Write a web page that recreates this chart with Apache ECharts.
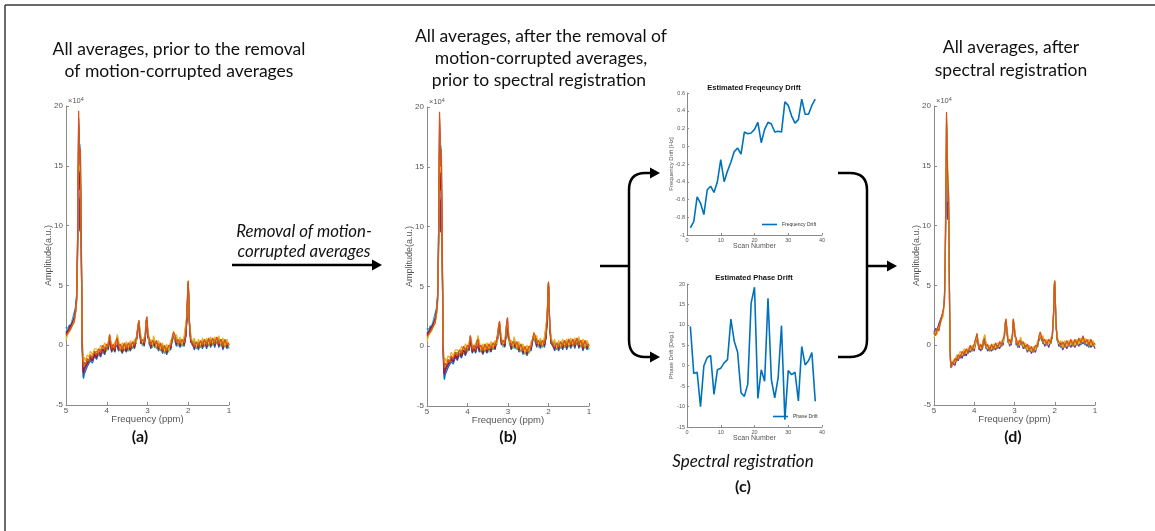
<!DOCTYPE html>
<html><head><meta charset="utf-8">
<script src="https://cdn.jsdelivr.net/npm/echarts@6/dist/echarts.min.js"></script>
<style>html,body{margin:0;padding:0;background:#fff}#c{width:1155px;height:531px}</style>
</head><body><div id="c"></div>
<script>
// chemical shift grid (ppm)
const ppm = [
5.00,4.96,4.92,4.88,4.84,4.80,4.77,4.74,4.72,4.70,
4.69,4.68,4.67,4.66,4.65,4.64,4.63,4.62,4.61,4.60,
4.59,4.58,4.57,4.55,4.52,4.48,4.44,4.40,4.35,4.30,
4.25,4.20,4.15,4.10,4.05,4.00,3.96,3.93,3.91,3.88,
3.84,3.80,3.77,3.74,3.71,3.67,3.62,3.57,3.52,3.47,
3.42,3.37,3.32,3.28,3.25,3.23,3.21,3.19,3.16,3.12,
3.08,3.05,3.03,3.01,2.99,2.96,2.92,2.88,2.85,2.82,
2.78,2.73,2.68,2.63,2.58,2.53,2.48,2.43,2.39,2.36,
2.33,2.29,2.25,2.20,2.15,2.10,2.06,2.03,2.01,2.00,
1.99,1.97,1.94,1.90,1.85,1.80,1.75,1.70,1.65,1.60,
1.55,1.50,1.45,1.40,1.35,1.30,1.25,1.20,1.15,1.10,1.05,1.00];

// averages before removal / before registration (amplitude x1e4)
const rawBlue = [
1.5,1.2,1.7,1.5,2.2,2.3,3.1,4.2,7.5,14,
18.5,16,14,13.5,14,12.5,10,6.5,2.5,-0.5,
-1.9,-2.6,-2.8,-2.4,-2.3,-1.8,-1.9,-1.3,-1.5,-0.9,
-1.2,-0.7,-1.0,-0.5,-0.8,-0.2,-0.4,0.7,0.0,-0.6,
-0.2,-0.6,0.2,0.3,-0.5,-0.3,-0.7,-0.2,-0.6,-0.1,
-0.5,0.1,-0.3,0.4,0.5,1.5,1.8,0.9,0.1,0.3,
-0.1,0.8,1.9,2.0,0.6,0.4,-0.3,0.2,0.1,-0.2,
0.1,-0.5,-0.1,-0.7,-0.3,-0.8,-0.3,-0.4,0.5,0.7,
0.7,-0.1,0.3,-0.2,0.3,-0.1,0.7,2.2,4.6,5.0,
3.9,1.7,0.2,0.4,-0.4,0.1,-0.4,0.2,-0.3,0.3,
-0.3,0.4,-0.2,0.5,-0.2,0.6,-0.2,0.4,-0.4,0.3,-0.3,0.1];
const rawCyan = [
1.0,1.5,1.2,1.8,1.8,2.5,2.8,4.1,6.5,11.5,
15,15.5,16,16.5,16.8,15.5,12,7.5,3.0,0.0,
-1.2,-2.0,-2.2,-1.9,-2.0,-1.5,-1.6,-1.1,-1.3,-0.8,
-1.0,-0.6,-0.8,-0.3,-0.6,-0.1,-0.3,0.8,0.2,-0.4,
-0.1,-0.5,0.3,0.4,-0.3,-0.1,-0.6,-0.1,-0.4,-0.5,
0.1,-0.3,0.3,0.1,0.9,1.4,1.9,1.0,0.5,-0.1,
0.5,0.6,2.0,2.0,1.2,0.0,0.2,-0.2,0.5,-0.1,
0.2,-0.4,0.1,-0.6,-0.2,-0.6,0.0,-0.2,0.7,0.8,
0.4,0.5,-0.1,0.4,-0.1,0.4,0.5,2.5,4.7,5.0,
4.1,1.5,0.7,0.0,0.2,-0.3,0.2,-0.2,0.2,-0.1,
0.3,0.0,0.3,0.0,0.5,0.1,0.4,0.0,0.2,-0.1,0.2,-0.3];
const rawPurple = [
1.2,1.0,1.5,1.4,1.9,2.1,2.9,3.8,6.5,12,
16,13,10,9.5,12,12.5,10,6.0,2.5,-0.2,
-1.6,-2.2,-2.4,-2.1,-2.0,-1.6,-1.7,-1.2,-1.3,-0.8,
-1.1,-0.6,-0.9,-0.4,-0.7,-0.2,-0.3,0.6,0.1,-0.5,
-0.2,-0.5,0.2,0.3,-0.4,-0.2,-0.6,-0.2,-0.5,-0.1,
-0.4,0.1,-0.2,0.4,0.6,1.4,1.8,1.0,0.1,0.3,
0.0,0.8,1.8,2.1,0.7,0.4,-0.2,0.2,0.2,-0.1,
0.2,-0.4,0.0,-0.6,-0.3,-0.7,-0.2,-0.3,0.6,0.7,
0.8,0.0,0.3,-0.1,0.3,0.0,0.8,2.3,4.6,5.1,
4.0,1.8,0.3,0.4,-0.3,0.2,-0.3,0.2,-0.2,0.3,
-0.2,0.4,-0.1,0.5,-0.1,0.6,-0.1,0.4,-0.3,0.4,-0.2,0.1];
const rawGreen = [
0.6,1.0,0.9,1.4,1.5,2.1,2.5,3.8,7.0,13,
17,16,15,14,14.5,13,10.5,6.5,2.8,0.3,
-0.9,-1.6,-1.9,-1.5,-1.7,-1.2,-1.4,-0.9,-1.1,-0.6,
-0.5,-0.8,-0.3,-0.6,-0.1,-0.5,0.1,0.6,0.5,-0.1,
-0.5,0.0,-0.1,0.8,0.2,-0.5,0.0,-0.5,0.1,-0.4,
0.2,-0.3,0.4,0.1,1.0,1.5,1.9,1.3,0.6,0.0,
0.5,0.7,2.0,2.0,1.2,0.1,0.3,-0.2,0.6,0.3,
-0.3,0.2,-0.5,0.0,-0.7,-0.2,-0.6,0.2,0.4,1.0,
0.4,0.7,0.0,0.5,-0.1,0.6,0.6,2.5,4.8,5.1,
4.1,1.6,0.8,0.0,0.4,-0.3,0.3,-0.2,0.4,-0.1,
0.4,-0.1,0.5,0.0,0.5,0.1,0.6,-0.1,0.4,-0.2,0.3,-0.2];
const rawRed = [
0.9,1.2,1.1,1.6,1.6,2.3,2.6,3.9,7.5,14.5,
19,17.5,14,13,14,12.5,10,6.0,2.4,0.0,
-1.5,-2.1,-2.3,-1.9,-2.0,-1.5,-1.6,-1.0,-1.3,-0.7,
-1.0,-0.5,-0.8,-0.3,-0.6,0.0,-0.3,0.8,0.1,-0.5,
-0.1,-0.5,0.2,0.5,-0.3,-0.1,-0.6,0.0,-0.5,0.0,
-0.4,0.2,-0.2,0.5,0.6,1.7,2.0,1.1,0.2,0.4,
0.0,0.9,2.1,2.2,0.8,0.5,-0.2,0.3,0.2,0.0,
0.2,-0.3,0.0,-0.5,-0.2,-0.6,-0.1,-0.2,0.5,1.0,
0.8,0.1,0.4,0.0,0.4,0.1,0.8,2.5,4.9,5.3,
4.2,1.9,0.4,0.5,-0.2,0.2,-0.2,0.3,-0.1,0.4,
-0.1,0.5,0.0,0.5,0.0,0.6,0.0,0.5,-0.2,0.4,-0.1,0.1];
const rawYellow = [
0.4,0.9,0.8,1.3,1.4,2.0,2.4,3.7,6.8,13.5,
17.5,16.5,15.5,14.5,15,13.5,11,7.0,3.0,0.6,
-0.6,-1.1,-1.3,-1.0,-1.3,-0.8,-1.0,-0.5,-0.8,-0.3,
-0.3,-0.6,0.0,-0.3,0.2,-0.2,0.3,0.9,0.8,0.1,
-0.2,0.3,0.0,0.9,0.4,-0.3,0.2,-0.3,0.3,-0.2,
0.4,-0.1,0.5,0.2,1.1,1.8,2.0,1.5,0.7,0.2,
0.7,0.9,2.1,2.2,1.4,0.3,0.5,0.0,0.8,0.4,
-0.1,0.4,-0.3,0.2,-0.5,0.1,-0.4,0.4,0.6,1.2,
0.6,0.9,0.2,0.7,0.1,0.8,0.9,2.6,4.9,5.3,
4.3,1.8,1.0,0.2,0.6,-0.1,0.5,0.0,0.6,0.1,
0.6,0.1,0.7,0.2,0.7,0.3,0.8,0.1,0.6,0.0,0.5,0.0];
const rawOrange = [
0.8,0.7,1.2,1.1,1.7,1.9,2.7,3.6,7.5,14.5,
19.6,18,16,15,16.5,14.5,11.5,7.5,3.2,0.4,
-1.0,-1.5,-1.8,-1.4,-1.6,-1.1,-1.3,-0.8,-1.0,-0.5,
-0.8,-0.3,-0.6,0.0,-0.4,0.1,-0.1,0.9,0.4,-0.3,
0.1,-0.3,0.4,0.6,-0.1,0.1,-0.4,0.2,-0.3,0.2,
-0.2,0.3,0.0,0.5,0.8,1.7,2.1,1.2,0.3,0.5,
0.2,1.0,2.2,2.4,0.9,0.6,0.0,0.4,0.4,0.1,
0.4,-0.2,0.2,-0.4,0.0,-0.5,0.0,-0.1,0.7,1.1,
0.9,0.2,0.5,0.1,0.5,0.2,0.9,2.7,5.1,5.4,
4.4,2.0,0.5,0.6,-0.1,0.3,-0.1,0.4,0.0,0.5,
0.0,0.6,0.1,0.6,0.1,0.7,0.1,0.5,-0.1,0.5,0.0,0.2];

// averages after spectral registration
const regBlue = [
1.2,0.9,1.4,1.3,2.0,2.1,2.9,3.8,7.5,14,
18.5,18,15,13.5,13,12.5,10,6.0,2.2,-0.3,
-1.4,-1.8,-1.9,-1.6,-1.7,-1.3,-1.4,-0.9,-1.1,-0.6,
-0.9,-0.4,-0.7,-0.2,-0.5,0.0,-0.1,0.8,0.2,-0.4,
0.0,-0.4,0.3,0.5,-0.3,-0.1,-0.5,-0.1,-0.4,0.1,
-0.3,0.2,-0.1,0.5,0.7,1.8,2.1,1.1,0.2,0.4,
0.0,0.9,2.1,2.2,0.8,0.5,-0.2,0.3,0.2,0.0,
0.2,-0.3,0.0,-0.5,-0.2,-0.6,-0.1,-0.2,0.6,0.9,
0.9,0.1,0.4,0.0,0.4,0.1,0.8,2.6,5.0,5.3,
4.3,1.9,0.4,0.5,-0.2,0.2,-0.2,0.3,-0.1,0.4,
-0.1,0.4,0.0,0.5,0.0,0.7,0.0,0.4,-0.2,0.4,-0.1,0.1];
const regPurple = [
0.9,1.4,1.2,1.8,1.7,2.5,2.7,4.2,7.0,12.5,
16,14,11,10.5,12,11.5,9.5,5.8,2.0,-0.4,
-1.3,-1.9,-1.8,-2.0,-1.5,-1.7,-1.1,-1.3,-0.8,-1.1,
-0.5,-0.9,-0.4,-0.6,-0.2,-0.5,0.2,0.6,0.5,-0.1,
-0.5,-0.1,-0.1,0.8,0.1,-0.5,-0.2,-0.5,-0.1,-0.4,
0.0,-0.3,0.2,0.0,1.0,1.6,2.0,1.3,0.5,-0.1,
0.4,0.7,2.0,2.0,1.1,0.0,0.2,-0.2,0.5,0.2,
-0.3,0.0,-0.6,-0.2,-0.7,-0.3,-0.6,0.1,0.4,0.9,
0.4,0.6,-0.1,0.3,-0.2,0.4,0.6,2.4,4.9,5.1,
4.2,1.5,0.7,-0.1,0.2,-0.4,0.2,-0.3,0.2,-0.2,
0.2,-0.2,0.3,-0.1,0.4,0.1,0.4,-0.1,0.3,-0.2,0.2,-0.3];
const regGreen = [
1.1,0.8,1.4,1.2,1.9,2.0,2.8,3.7,7.0,13,
17,16,15,14.5,14,12.5,10,6.0,2.2,-0.2,
-1.3,-1.7,-1.9,-1.5,-1.6,-1.2,-1.4,-0.8,-1.0,-0.6,
-0.8,-0.4,-0.6,-0.1,-0.5,0.0,0.0,0.9,0.2,-0.3,
0.0,-0.4,0.4,0.4,-0.2,0.0,-0.5,0.0,-0.4,0.1,
-0.3,0.3,-0.1,0.5,0.7,1.8,2.0,1.2,0.2,0.4,
0.1,0.9,2.1,2.2,0.8,0.5,-0.1,0.3,0.2,0.1,
0.2,-0.3,0.0,-0.5,-0.2,-0.6,-0.1,-0.2,0.7,0.9,
0.9,0.2,0.4,0.0,0.4,0.1,0.8,2.6,5.0,5.3,
4.3,1.9,0.4,0.5,-0.1,0.2,-0.2,0.3,-0.1,0.4,
-0.1,0.4,0.0,0.5,0.1,0.7,0.1,0.4,-0.1,0.4,-0.1,0.1];
const regYellow = [
0.6,1.1,0.9,1.5,1.4,2.2,2.4,4.0,7.8,14.8,
19,18,16.5,14.5,13.5,12.8,10.2,6.2,2.3,0.0,
-0.9,-1.5,-1.4,-1.7,-1.2,-1.4,-0.8,-1.1,-0.5,-0.8,
-0.3,-0.7,-0.2,-0.4,0.0,-0.3,0.4,0.8,0.7,0.1,
-0.3,0.1,0.1,0.9,0.3,-0.3,0.0,-0.3,0.1,-0.2,
0.2,-0.1,0.4,0.2,1.2,1.8,2.2,1.5,0.7,0.1,
0.6,0.9,2.2,2.2,1.3,0.2,0.4,0.0,0.7,0.4,
-0.1,0.2,-0.4,0.0,-0.5,-0.1,-0.4,0.3,0.6,1.1,
0.6,0.8,0.1,0.5,0.1,0.6,0.9,2.7,5.2,5.4,
4.4,1.7,0.9,0.1,0.4,-0.2,0.4,-0.1,0.4,0.1,
0.4,0.0,0.5,0.1,0.6,0.3,0.6,0.1,0.5,0.0,0.4,-0.1];
const regOrange = [
1.0,0.8,1.4,1.2,1.9,2.0,2.9,3.7,8.0,15,
19.5,18.5,16,14,13.5,13,10.5,6.5,2.5,-0.1,
-1.2,-1.6,-1.8,-1.4,-1.6,-1.1,-1.3,-0.8,-1.0,-0.5,
-0.8,-0.3,-0.6,0.0,-0.4,0.1,0.0,1.0,0.3,-0.3,
0.1,-0.3,0.5,0.5,-0.1,0.1,-0.4,0.1,-0.3,0.2,
-0.2,0.3,0.0,0.6,0.8,1.9,2.2,1.3,0.3,0.5,
0.1,1.0,2.2,2.3,0.9,0.6,0.0,0.4,0.3,0.1,
0.3,-0.2,0.1,-0.4,-0.1,-0.5,0.0,-0.1,0.8,1.1,
1.0,0.3,0.5,0.1,0.5,0.2,0.9,2.7,5.1,5.4,
4.4,2.0,0.5,0.6,0.0,0.3,-0.1,0.4,0.0,0.5,
0.0,0.5,0.1,0.6,0.2,0.8,0.2,0.5,0.0,0.5,0.0,0.2];

// drift estimates per scan
const scans = [1,2,3,4,5,6,7,8,9,10,11,12,13,14,15,16,17,18,19,20,21,22,23,24,25,26,27,28,29,30,31,32,33,34,35,36,37,38];
const freqDrift = [-0.92,-0.85,-0.57,-0.64,-0.77,-0.49,-0.45,-0.52,-0.40,-0.15,-0.40,-0.28,-0.18,-0.06,-0.02,-0.09,0.16,0.14,0.15,0.19,0.27,0.04,0.19,0.27,0.25,0.16,0.17,0.16,0.50,0.46,0.34,0.26,0.30,0.53,0.36,0.36,0.46,0.53];
const phaseDrift = [9.6,-1.9,-1.6,-10,0,2,2.5,-7,-1,-0.6,0.7,1.5,11.4,6,3.3,-6.6,-7.5,-4.5,15.3,19.2,-8,-1,-3.8,16.5,-3.4,-7.9,-3,9.8,-13.2,-1.2,-2.2,-1.6,-8.6,4.7,0.2,1.2,3.2,-8.7];

const specRaw = [['#0072BD',rawBlue],['#4DBEEE',rawCyan],['#7E2F8E',rawPurple],['#77AC30',rawGreen],['#A2142F',rawRed],['#EDB120',rawYellow],['#D95319',rawOrange]];
const specReg = [['#0072BD',regBlue],['#7E2F8E',regPurple],['#77AC30',regGreen],['#EDB120',regYellow],['#D95319',regOrange]];

const AX = '#8a8a8a', LBL = '#555', FF = 'Liberation Sans';
function specAxes(i){
  return {
    x:{type:'value',gridIndex:i,min:1,max:5,interval:1,inverse:true,
       name:'Frequency (ppm)',nameLocation:'middle',nameGap:9,nameMoveOverlap:false,
       nameTextStyle:{fontSize:9.5,color:LBL,fontFamily:FF},
       axisLine:{onZero:false,lineStyle:{color:AX}},axisTick:{inside:true,length:3,lineStyle:{color:AX}},
       axisLabel:{fontSize:8,color:LBL,fontFamily:FF,margin:2},splitLine:{show:false}},
    y:{type:'value',gridIndex:i,min:-5,max:20,interval:5,
       name:'Amplitude(a.u.)',nameLocation:'middle',nameGap:13,nameMoveOverlap:false,
       nameTextStyle:{fontSize:9,color:LBL,fontFamily:FF},
       axisLine:{show:true,onZero:false,lineStyle:{color:AX}},axisTick:{show:true,inside:true,length:3,lineStyle:{color:AX}},
       axisLabel:{fontSize:8,color:LBL,fontFamily:FF,margin:3},splitLine:{show:false}}
  };
}
function smallAxes(i,ymin,ymax,yint,yname){
  return {
    x:{type:'value',gridIndex:i,min:0,max:40,interval:10,
       name:'Scan Number',nameLocation:'middle',nameGap:8,nameMoveOverlap:false,
       nameTextStyle:{fontSize:7,color:LBL,fontFamily:FF},
       axisLine:{onZero:false,lineStyle:{color:AX}},axisTick:{inside:true,length:2,lineStyle:{color:AX}},
       axisLabel:{fontSize:5.5,color:LBL,fontFamily:FF,margin:2},splitLine:{show:false}},
    y:{type:'value',gridIndex:i,min:ymin,max:ymax,interval:yint,
       name:yname,nameLocation:'middle',nameGap:12.5,nameMoveOverlap:false,
       nameTextStyle:{fontSize:6,color:LBL,fontFamily:FF},
       axisLine:{show:true,onZero:false,lineStyle:{color:AX}},axisTick:{show:true,inside:true,length:2,lineStyle:{color:AX}},
       axisLabel:{fontSize:5.5,color:LBL,fontFamily:FF,margin:2},splitLine:{show:false}}
  };
}
const grids = [
  {left:66,top:106,width:163,height:299},
  {left:427,top:107,width:162,height:299},
  {left:934,top:106,width:161,height:299},
  {left:687,top:93,width:135,height:142},
  {left:687,top:284,width:135,height:143}
];
const axA = specAxes(0), axB = specAxes(1), axD = specAxes(2);
const axF = smallAxes(3,-1,0.6,0.2,'Frequency Drift [Hz]');
const axP = smallAxes(4,-15,20,5,'Phase Drift [Deg.]');

const series = [];
function addSpec(list, idx){
  list.forEach(([col,vals])=>{
    series.push({type:'line',xAxisIndex:idx,yAxisIndex:idx,symbol:'none',silent:true,animation:false,
      lineStyle:{width:1.2,color:col},data:ppm.map((p,k)=>[p,vals[k]])});
  });
}
addSpec(specRaw,0); addSpec(specRaw,1); addSpec(specReg,2);
series.push({name:'Frequency Drift',type:'line',xAxisIndex:3,yAxisIndex:3,symbol:'none',animation:false,
  itemStyle:{color:'#0072BD'},lineStyle:{width:1.6,color:'#0072BD'},data:scans.map((s,k)=>[s,freqDrift[k]])});
series.push({name:'Phase Drift',type:'line',xAxisIndex:4,yAxisIndex:4,symbol:'none',animation:false,
  itemStyle:{color:'#0072BD'},lineStyle:{width:1.6,color:'#0072BD'},data:scans.map((s,k)=>[s,phaseDrift[k]])});

const TF = 'Lato';
function txt(t,x,y,size,opt){
  return {type:'text',x:x,y:y,silent:true,style:Object.assign({text:t,textAlign:'center',textVerticalAlign:'middle',
    fontSize:size,fontFamily:TF,fill:'#111'},opt||{})};
}
function line(x1,y1,x2,y2,w){return {type:'line',silent:true,shape:{x1,y1,x2,y2},style:{stroke:'#000',lineWidth:w||2.5}};}
function curve(x1,y1,cx,cy,x2,y2){return {type:'bezierCurve',silent:true,shape:{x1,y1,x2,y2,cpx1:cx,cpy1:cy},style:{stroke:'#000',lineWidth:2.5,fill:null}};}
function head(x,y){ // arrow tip at x,y pointing right
  return {type:'polygon',silent:true,shape:{points:[[x-10,y-5.5],[x,y],[x-10,y+5.5]]},style:{fill:'#000'}};
}
const sup = (x,y)=>({type:'text',silent:true,x:x,y:y,style:{text:'{a|×10}{b|4}',textVerticalAlign:'middle',fontFamily:FF,
    rich:{a:{fontSize:7.5,fill:LBL,fontFamily:FF},b:{fontSize:5.5,fill:LBL,fontFamily:FF,verticalAlign:'top',padding:[0,0,4,0]}}}});
const graphic = [
  {type:'line',silent:true,shape:{x1:5,y1:5,x2:1155,y2:5},style:{stroke:'#3a3a3a',lineWidth:1.5}},
  {type:'line',silent:true,shape:{x1:5,y1:5,x2:5,y2:531},style:{stroke:'#3a3a3a',lineWidth:1.5}},
  txt('All averages, prior to the removal',179,49,17.5),
  txt('of motion-corrupted averages',179,71,17.5),
  txt('All averages, after the removal of',541,36,17.5),
  txt('motion-corrupted averages,',541,58,17.5),
  txt('prior to spectral registration',539,80,17.5),
  txt('All averages, after',1011,47,17.5),
  txt('spectral registration',1011,70,17.5),
  txt('(a)',140,437,16,{fontWeight:'bold'}),
  txt('(b)',508,437,16,{fontWeight:'bold'}),
  txt('(d)',1013,437,16,{fontWeight:'bold'}),
  txt('Spectral registration',743,462,17,{fontStyle:'italic'}),
  txt('(c)',743,487,16,{fontWeight:'bold'}),
  txt('Removal of motion-',304,232,16.8,{fontStyle:'italic'}),
  txt('corrupted averages',304,252,16.8,{fontStyle:'italic'}),
  line(232,265,373,265), head(382,265),
  line(600,266,629,266),
  line(645,173,651,173), curve(645,173,629,173,629,190), line(629,190,629,340), curve(629,340,629,357,645,357), line(645,357,651,357),
  head(660,173), head(660,357),
  line(838,173,850,173), curve(850,173,867,173,867,190), line(867,190,867,340), curve(867,340,867,357,850,357), line(850,357,838,357),
  line(867,266,888,266), head(897,266),
  txt('Estimated Freqeuncy Drift',754,88,7.5,{fontWeight:'bold',fontFamily:FF}),
  txt('Estimated Phase Drift',754,278,7.5,{fontWeight:'bold',fontFamily:FF}),
  sup(68,101), sup(429,102), sup(936,101)
];

const chart = echarts.init(document.getElementById('c'),null,{renderer:'canvas'});
chart.setOption({
  backgroundColor:'#fff',
  animation:false,
  grid:grids,
  xAxis:[axA.x,axB.x,axD.x,axF.x,axP.x],
  yAxis:[axA.y,axB.y,axD.y,axF.y,axP.y],
  legend:[
    {data:['Frequency Drift'],left:762,top:222,icon:'rect',itemWidth:15,itemHeight:1.6,padding:0,itemGap:0,
     textStyle:{fontSize:5,color:'#333',fontFamily:FF},selectedMode:false},
    {data:['Phase Drift'],left:773,top:414,icon:'rect',itemWidth:15,itemHeight:1.6,padding:0,itemGap:0,
     textStyle:{fontSize:5,color:'#333',fontFamily:FF},selectedMode:false}
  ],
  series:series,
  graphic:graphic
});
</script></body></html>
